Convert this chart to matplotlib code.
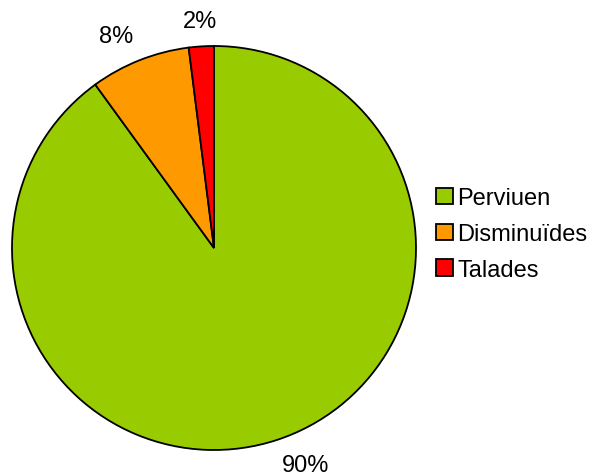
import numpy as np
import matplotlib.pyplot as plt

# dades
etiquetes = ["Perviuen", "Disminuïdes", "Talades"]
valors = [90, 8, 2]
colors = ["#99CC00", "#FF9900", "#FF0000"]

plt.rcParams['font.family'] = ['Liberation Sans', 'DejaVu Sans']

fig = plt.figure(figsize=(6.05, 4.77), dpi=100)
ax = fig.add_axes([12/605, 26/477, 404/605, 404/477])

wedges, texts = ax.pie(valors, colors=colors, startangle=90, counterclock=False,
                       radius=1, wedgeprops=dict(edgecolor='black', linewidth=1.3))
ax.set_xlim(-1, 1)
ax.set_ylim(-1, 1)
ax.set_aspect('equal')
ax.axis('off')

# etiquetes de percentatge fora del pastís, estil Excel
total = sum(valors)
for w, v in zip(wedges, valors):
    ang = np.deg2rad((w.theta1 + w.theta2) / 2)
    c, s = np.cos(ang), np.sin(ang)
    if abs(c) < 0.1:
        ha = 'center'
    elif c > 0:
        ha = 'left'
    else:
        ha = 'right'
    va = 'top' if s < 0 else 'bottom'
    ax.text(1.08 * c, 1.07 * s, "%d%%" % round(100 * v / total), ha=ha, va=va,
            fontsize=17, clip_on=False)

fig.legend(wedges, etiquetes, loc='center left', bbox_to_anchor=(436/605, 0.507),
           frameon=False, fontsize=17, handlelength=0.7, handleheight=0.7,
           handletextpad=0.2, labelspacing=0.58, borderpad=0, borderaxespad=0)

fig.savefig("out.png", dpi=100)
